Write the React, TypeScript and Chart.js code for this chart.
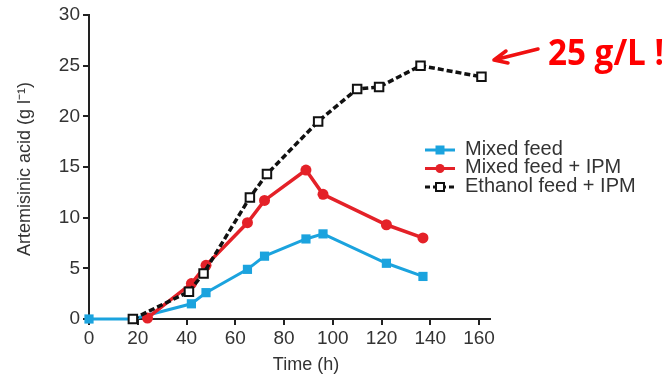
import React, { useEffect, useRef } from "react";
import { Chart, registerables } from "chart.js";

Chart.register(...registerables);

// ---- data ----
const mixedTimes = [0, 18, 42, 48, 65, 72, 89, 96, 122, 137];
const mixedValues = [0, 0, 1.5, 2.6, 4.9, 6.2, 7.9, 8.4, 5.5, 4.2];

const mixedIpmTimes = [24, 42, 48, 65, 72, 89, 96, 122, 137];
const mixedIpmValues = [0.1, 3.5, 5.3, 9.5, 11.7, 14.7, 12.3, 9.3, 8.0];

const ethanolTimes = [18, 41, 47, 66, 73, 94, 110, 119, 136, 161];
const ethanolValues = [0, 2.7, 4.5, 12.0, 14.3, 19.5, 22.7, 22.9, 25.0, 23.9];

const seriesLabels = ["Mixed feed", "Mixed feed + IPM", "Ethanol feed + IPM"];
const xTickValues = [0, 20, 40, 60, 80, 100, 120, 140, 160];
const yTickValues = [0, 5, 10, 15, 20, 25, 30];
const xTitle = "Time (h)";
const yTitle = "Artemisinic acid (g l\u207B\u00B9)";
const noteText = "25 g/L !";

// ---- styles ----
const BLUE = "#1ba3de";
const RED = "#e42128";
const BLACK = "#111111";
const AXIS = "#222222";
const TXT = "#333333";
const FAMILY = "'Liberation Sans', Arial, Helvetica, sans-serif";
const NOTE_FAMILY = "'Open Sans', 'Liberation Sans', sans-serif";

export default function App() {
  const ref = useRef<HTMLCanvasElement>(null);

  useEffect(() => {
    const toPts = (t: number[], v: number[]) => t.map((x, i) => ({ x, y: v[i] }));

    const drawMarker = (ctx: CanvasRenderingContext2D, kind: number, x: number, y: number) => {
      ctx.save();
      ctx.setLineDash([]);
      if (kind === 0) {
        ctx.fillStyle = BLUE;
        ctx.fillRect(x - 4.5, y - 4.5, 9, 9);
      } else if (kind === 1) {
        ctx.fillStyle = RED;
        ctx.beginPath();
        ctx.arc(x, y, 4.5, 0, Math.PI * 2);
        ctx.fill();
      } else {
        ctx.fillStyle = "#fff";
        ctx.strokeStyle = BLACK;
        ctx.lineWidth = 2;
        ctx.fillRect(x - 4, y - 4, 8, 8);
        ctx.strokeRect(x - 4, y - 4, 8, 8);
      }
      ctx.restore();
    };

    const overlay = {
      id: "overlay",
      afterDraw(chart: any) {
        const ctx: CanvasRenderingContext2D = chart.ctx;
        ctx.save();
        // axis titles
        ctx.fillStyle = TXT;
        ctx.font = `18px ${FAMILY}`;
        ctx.textAlign = "center";
        ctx.textBaseline = "middle";
        ctx.fillText(xTitle, 306, 365);
        ctx.save();
        ctx.translate(25, 169);
        ctx.rotate(-Math.PI / 2);
        ctx.fillText(yTitle, 0, 0);
        ctx.restore();

        // legend
        const colors = [BLUE, RED, BLACK];
        const rowsY = [149, 167.5, 186];
        ctx.font = `20px ${FAMILY}`;
        ctx.textAlign = "left";
        for (let i = 0; i < seriesLabels.length; i++) {
          const y = rowsY[i];
          ctx.save();
          ctx.strokeStyle = colors[i];
          ctx.lineWidth = 3;
          if (i === 2) ctx.setLineDash([5, 3]);
          ctx.beginPath();
          ctx.moveTo(425, y + 1);
          ctx.lineTo(455, y + 1);
          ctx.stroke();
          ctx.restore();
          drawMarker(ctx, i, 440, y + 1);
          ctx.fillStyle = TXT;
          ctx.fillText(seriesLabels[i], 465, y);
        }

        // annotation arrow
        ctx.strokeStyle = "#f01010";
        ctx.lineWidth = 3.5;
        ctx.lineCap = "round";
        ctx.beginPath();
        ctx.moveTo(538, 49);
        ctx.lineTo(494, 60);
        ctx.moveTo(494, 60);
        ctx.lineTo(506, 51);
        ctx.moveTo(494, 60);
        ctx.lineTo(508, 63);
        ctx.stroke();

        // annotation text
        ctx.fillStyle = "#ff0000";
        ctx.font = `bold 36px ${NOTE_FAMILY}`;
        ctx.textBaseline = "alphabetic";
        const w = ctx.measureText(noteText).width;
        ctx.translate(548, 65);
        ctx.scale(116 / w, 1);
        ctx.fillText(noteText, 0, 0);
        ctx.restore();
      },
    };

    const axisCommon = {
      grid: {
        drawOnChartArea: false,
        drawTicks: true,
        tickLength: 6,
        color: AXIS,
        lineWidth: 2,
      },
      border: { color: AXIS, width: 2 },
    };

    const chart = new Chart(ref.current as HTMLCanvasElement, {
      type: "line",
      data: {
        datasets: [
          {
            label: seriesLabels[0],
            data: toPts(mixedTimes, mixedValues),
            borderColor: BLUE,
            backgroundColor: BLUE,
            borderWidth: 3,
            pointStyle: "rect",
            pointRadius: 6.5,
            pointBorderWidth: 0,
            pointBackgroundColor: BLUE,
            clip: false,
            order: 3,
          },
          {
            label: seriesLabels[1],
            data: toPts(mixedIpmTimes, mixedIpmValues),
            borderColor: RED,
            backgroundColor: RED,
            borderWidth: 3.5,
            pointStyle: "circle",
            pointRadius: 5.5,
            pointBorderWidth: 0,
            pointBackgroundColor: RED,
            clip: false,
            order: 2,
          },
          {
            label: seriesLabels[2],
            data: toPts(ethanolTimes, ethanolValues),
            borderColor: BLACK,
            backgroundColor: "#fff",
            borderWidth: 3.5,
            borderDash: [6, 3],
            pointStyle: "rect",
            pointRadius: 6,
            pointBorderWidth: 2,
            pointBorderColor: BLACK,
            pointBackgroundColor: "#fff",
            clip: false,
            order: 1,
          },
        ],
      },
      options: {
        responsive: false,
        animation: false,
        layout: { padding: { left: 0, top: 15, right: 176, bottom: 0 } },
        plugins: {
          legend: { display: false },
          tooltip: { enabled: false },
        },
        scales: {
          x: {
            type: "linear",
            min: 0,
            max: 164.5,
            afterBuildTicks: (s: any) => {
              s.ticks = xTickValues.map((v) => ({ value: v }));
            },
            afterFit: (s: any) => {
              s.height = 60;
            },
            ...axisCommon,
            ticks: {
              font: { family: FAMILY, size: 19 },
              color: TXT,
              padding: 2,
              maxRotation: 0,
              autoSkip: false,
            },
          },
          y: {
            type: "linear",
            min: 0,
            max: 30,
            afterBuildTicks: (s: any) => {
              s.ticks = yTickValues.map((v) => ({ value: v }));
            },
            afterFit: (s: any) => {
              s.width = 89;
            },
            ...axisCommon,
            ticks: {
              font: { family: FAMILY, size: 19 },
              color: TXT,
              padding: 3,
              autoSkip: false,
            },
          },
        },
      },
      plugins: [overlay],
    } as any);

    return () => chart.destroy();
  }, []);

  return (
    <div style={{ position: "fixed", left: 0, top: 0, width: 666, height: 379, background: "#fff" }}>
      <canvas ref={ref} width={666} height={379} style={{ display: "block" }} />
    </div>
  );
}
